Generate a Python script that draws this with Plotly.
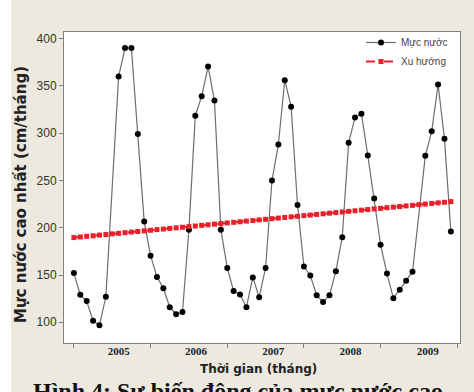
import plotly.graph_objects as go

# Monthly maximum water level, Jan 2005 - Dec 2009 (cm); None = month without a record
month_index = list(range(60))
water_level = [
    152, 129, 122.5, 101.5, 97, 127, None, 360, 390, 390, 299, 206.5,
    170.5, 148, 136, 116, 108.5, 111, 198, 318.5, 339, 370.5, 334.5, 198,
    157.5, 133, 129.5, 116, 147.5, 126.5, 157.5, 250, 288, 356, 328, 224,
    159, 149.5, 128.5, 121.5, 128.5, 154, 190, 290, 316.5, 320.5, 276.5, 231,
    182, 151.5, 125.5, 134.5, 144, 153.5, None, 276, 302, 351.5, 294, 196,
]
trend = [
    189.6, 190.2, 190.9, 191.5, 192.2, 192.8, 193.5, 194.1, 194.8, 195.4, 196.0, 196.7,
    197.3, 198.0, 198.6, 199.3, 199.9, 200.5, 201.2, 201.8, 202.5, 203.1, 203.8, 204.4,
    205.1, 205.7, 206.3, 207.0, 207.6, 208.3, 208.9, 209.6, 210.2, 210.9, 211.5, 212.1,
    212.8, 213.4, 214.1, 214.7, 215.4, 216.0, 216.6, 217.3, 217.9, 218.6, 219.2, 219.9,
    220.5, 221.2, 221.8, 222.4, 223.1, 223.7, 224.4, 225.0, 225.7, 226.3, 226.9, 227.6,
]
year_labels = ["2005", "2006", "2007", "2008", "2009"]
year_ticks = [0, 12, 24, 36, 48, 60]
year_label_pos = [7, 19.1, 31.2, 43.3, 55.4]
y_ticks = [100, 150, 200, 250, 300, 350, 400]

W, H = 474, 392
L, R, T, B = 64, 14, 32, 49
PW, PH = W - L - R, H - T - B


def px(x):
    return (x - L) / PW


def py(y):
    return (H - B - y) / PH


BEIGE = "#EDE9DF"
AXIS = "#808080"

fig = go.Figure()
fig.add_trace(go.Scatter(
    x=month_index, y=water_level, name="Mực nước", mode="lines+markers",
    connectgaps=True,
    line=dict(color="#6E6E6E", width=1.2),
    marker=dict(symbol="circle", size=6, color="#000000"),
))
fig.add_trace(go.Scatter(
    x=month_index, y=trend, name="Xu hướng", mode="lines+markers",
    line=dict(color="#E8202A", width=2, dash="dash"),
    marker=dict(symbol="square", size=5, color="#E8202A"),
))
# invisible trace carrying the year labels on the overlay axis
fig.add_trace(go.Scatter(x=[0], y=[None], xaxis="x2", showlegend=False, hoverinfo="skip"))

fig.update_layout(
    width=W, height=H,
    margin=dict(l=L, r=R, t=T, b=B),
    paper_bgcolor=BEIGE, plot_bgcolor="#FFFFFF",
    showlegend=True,
    legend=dict(x=px(361), y=py(28), xanchor="left", yanchor="top",
                bgcolor="rgba(0,0,0,0)", tracegroupgap=0, itemwidth=30,
                font=dict(family="Liberation Sans", size=10, color="#444444")),
    xaxis=dict(range=[-1.55, 60.43], tickvals=year_ticks, ticktext=[""] * len(year_ticks),
               ticks="outside", ticklen=4, tickcolor=AXIS, showgrid=False, zeroline=False,
               showline=True, linecolor=AXIS, linewidth=1, mirror=True),
    xaxis2=dict(range=[-1.55, 60.43], overlaying="x", side="bottom", anchor="y",
                tickvals=year_label_pos, ticktext=year_labels, ticks="", showgrid=False,
                zeroline=False, showline=False,
                tickfont=dict(family="Liberation Serif", size=11, color="#222222", weight="bold")),
    yaxis=dict(range=[78.1, 407], tickvals=y_ticks, ticks="outside", ticklen=4,
               tickcolor=AXIS, showgrid=False, zeroline=False,
               showline=True, linecolor=AXIS, linewidth=1, mirror=True,
               tickfont=dict(family="Liberation Sans", size=12, color="#333333")),
    shapes=[dict(type="rect", xref="paper", yref="paper", x0=px(0), x1=px(11),
                 y0=py(H), y1=py(0), fillcolor="#FFFFFF", line=dict(width=0), layer="below")],
    annotations=[
        dict(text="Mực nước cao nhất (cm/tháng)", textangle=-90, xref="paper", yref="paper",
             x=px(21), y=py(195), xanchor="center", yanchor="middle", showarrow=False,
             font=dict(family="DejaVu Sans", size=15, color="#222222", weight="bold")),
        dict(text="Thời gian (tháng)", xref="paper", yref="paper",
             x=px(258), y=py(369), xanchor="center", yanchor="middle", showarrow=False,
             font=dict(family="DejaVu Sans", size=12, color="#222222", weight="bold")),
        dict(text="Hình 4: Sự biến động của mực nước cao", xref="paper", yref="paper",
             x=px(238), y=py(376), xanchor="center", yanchor="top", showarrow=False,
             font=dict(family="Liberation Serif", size=24, color="#111111", weight="bold")),
    ],
)

fig.write_html("out.html")
